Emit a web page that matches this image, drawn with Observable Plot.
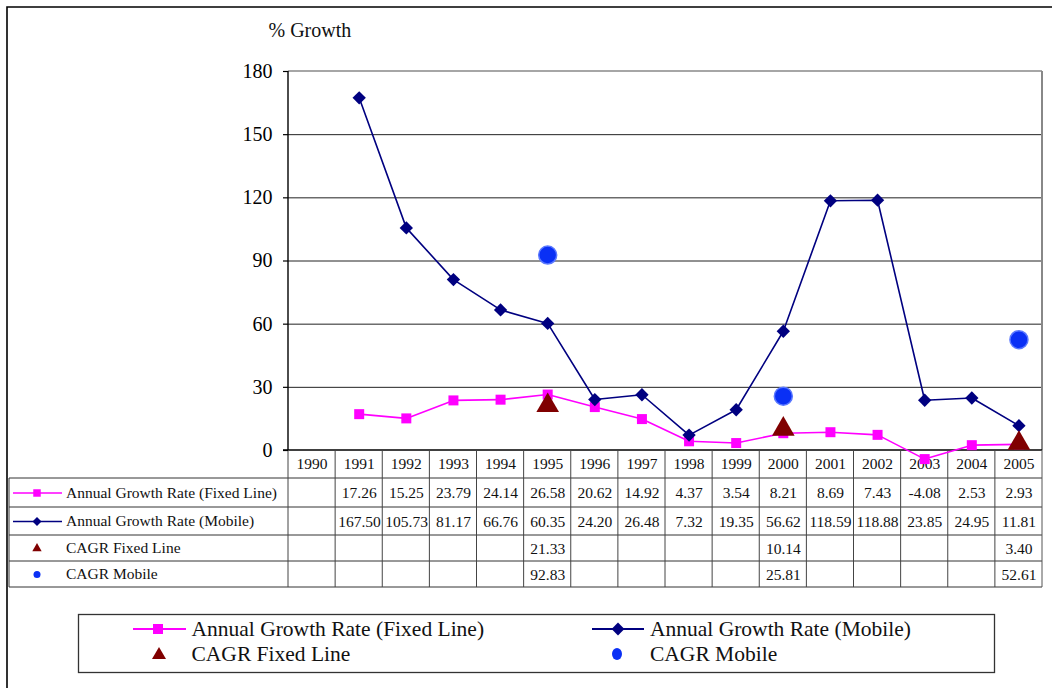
<!DOCTYPE html>
<html>
<head>
<meta charset="utf-8">
<script src="https://cdn.jsdelivr.net/npm/d3@7"></script>
<script src="https://cdn.jsdelivr.net/npm/@observablehq/plot@0.6"></script>
<style>
  html, body { margin: 0; padding: 0; background: #fff; }
  #chart { width: 1054px; height: 688px; overflow: hidden; }
</style>
</head>
<body>
<div id="chart"></div>
<script>
// Annual and compound growth rates of fixed-line and mobile subscribers, 1990–2005
const years = [1990, 1991, 1992, 1993, 1994, 1995, 1996, 1997, 1998, 1999, 2000, 2001, 2002, 2003, 2004, 2005];
const fixedLine = [null, 17.26, 15.25, 23.79, 24.14, 26.58, 20.62, 14.92, 4.37, 3.54, 8.21, 8.69, 7.43, -4.08, 2.53, 2.93];
const mobile = [null, 167.50, 105.73, 81.17, 66.76, 60.35, 24.20, 26.48, 7.32, 19.35, 56.62, 118.59, 118.88, 23.85, 24.95, 11.81];
const cagrYears = [1995, 2000, 2005];
const cagrFixed = [21.33, 10.14, 3.40];
const cagrMobile = [92.83, 25.81, 52.61];
const yTicks = [0, 30, 60, 90, 120, 150, 180];
const seriesNames = ["Annual Growth Rate (Fixed Line)", "Annual Growth Rate (Mobile)", "CAGR Fixed Line", "CAGR Mobile"];
const yTitle = "% Growth";

const FONT = '"Liberation Serif", "Times New Roman", Times, serif';
const C = {fixed: "#ff00ff", mobile: "#000080", cagrFixed: "#800000", cagrMobile: "#0a30f5", cagrMobileEdge: "#5a78ff"};

const annual = years.map((year, i) => ({year, fixed: fixedLine[i], mobile: mobile[i]}));
const cagr = cagrYears.map((year, i) => ({year, fixed: cagrFixed[i], mobile: cagrMobile[i]}));

// data-table rows: vertical boundaries and text centres, in px below the zero line
const rowEdges = [0, 28, 57, 85, 111, 137];
const rowMid = [14, 43, 71.5, 98.5, 124.5];

const cellsFixed = annual.filter(d => d.fixed != null).map(d => ({year: d.year, label: d.fixed.toFixed(2)}));
const cellsMobile = annual.filter(d => d.mobile != null).map(d => ({year: d.year, label: d.mobile.toFixed(2)}));
const cellsCagrFixed = cagr.map(d => ({year: d.year, label: d.fixed.toFixed(2)}));
const cellsCagrMobile = cagr.map(d => ({year: d.year, label: d.mobile.toFixed(2)}));
const wide = d => d.label.length > 5;

function cellText(data, row) {
  return [
    Plot.text(data.filter(d => !wide(d)), {x: "year", y: () => 0, text: "label", dy: rowMid[row], fontSize: 15.5, fill: "#111"}),
    Plot.text(data.filter(wide), {x: "year", y: () => 0, text: "label", dy: rowMid[row], dx: -21, textAnchor: "start", fontSize: 15.5, fill: "#111"})
  ];
}

// frame, plot borders, data-table grid, row keys and the legend box
function decorations(index, scales) {
  const x = scales.x, y = scales.y;
  const y0 = y(0), yTop = y(180);
  const left = x(years[0] - 0.5), right = x(years[years.length - 1] + 0.5);
  const g = d3.create("svg:g").attr("font-family", FONT).attr("text-anchor", "start");

  // outer chart frame
  g.append("path").attr("d", `M7,700V7H1052`).attr("fill", "none").attr("stroke", "#000").attr("stroke-width", 1.6);

  // plot area borders
  g.append("line").attr("x1", left).attr("x2", right).attr("y1", yTop).attr("y2", yTop).attr("stroke", "#888").attr("stroke-width", 1.6);
  g.append("line").attr("x1", right).attr("x2", right).attr("y1", yTop).attr("y2", y0).attr("stroke", "#888").attr("stroke-width", 2);
  g.append("line").attr("x1", left).attr("x2", left).attr("y1", yTop).attr("y2", y0).attr("stroke", "#000").attr("stroke-width", 1.4);
  g.append("line").attr("x1", left - 5).attr("x2", right).attr("y1", y0).attr("y2", y0).attr("stroke", "#000").attr("stroke-width", 1.4);

  // data table grid
  const tl = g.append("g").attr("stroke", "#333").attr("stroke-width", 1).attr("fill", "none");
  const tableBottom = y0 + rowEdges[rowEdges.length - 1];
  for (let i = 1; i < rowEdges.length; i++) {
    tl.append("line").attr("x1", 9).attr("x2", right).attr("y1", y0 + rowEdges[i]).attr("y2", y0 + rowEdges[i]);
  }
  for (let k = 0; k <= years.length; k++) {
    const xe = x(years[0] - 0.5 + k);
    tl.append("line").attr("x1", xe).attr("x2", xe).attr("y1", y0).attr("y2", tableBottom)
      .attr("stroke", k === years.length ? "#555" : "#444");
  }
  tl.append("line").attr("x1", 9).attr("x2", 9).attr("y1", y0 + rowEdges[1]).attr("y2", tableBottom);

  // row keys of the data table
  const keyX = 37;
  const ry = r => y0 + rowMid[r];
  g.append("line").attr("x1", 13).attr("x2", 62).attr("y1", ry(1)).attr("y2", ry(1)).attr("stroke", C.fixed).attr("stroke-width", 1.5);
  g.append("path").attr("d", d3.symbol(d3.symbolSquare, 56)()).attr("transform", `translate(${keyX},${ry(1)})`).attr("fill", C.fixed);
  g.append("line").attr("x1", 13).attr("x2", 62).attr("y1", ry(2)).attr("y2", ry(2)).attr("stroke", C.mobile).attr("stroke-width", 1.5);
  g.append("path").attr("d", d3.symbol(d3.symbolDiamond2, 52)()).attr("transform", `translate(${keyX},${ry(2)})`).attr("fill", C.mobile);
  g.append("path").attr("d", d3.symbol(d3.symbolTriangle, 38)()).attr("transform", `translate(${keyX},${ry(3)})`).attr("fill", C.cagrFixed);
  g.append("circle").attr("cx", keyX).attr("cy", ry(4)).attr("r", 3.5).attr("fill", C.cagrMobile);
  seriesNames.forEach((name, i) => {
    g.append("text").attr("x", 66).attr("y", ry(i + 1)).attr("dy", "0.32em")
      .attr("font-size", 15.5).attr("fill", "#111").text(name);
  });

  // legend
  g.append("rect").attr("x", 78.5).attr("y", 614.5).attr("width", 916).attr("height", 58)
    .attr("fill", "none").attr("stroke", "#333").attr("stroke-width", 1.3);
  const L1 = 629, L2 = 654;
  g.append("line").attr("x1", 133).attr("x2", 186).attr("y1", L1).attr("y2", L1).attr("stroke", C.fixed).attr("stroke-width", 1.8);
  g.append("path").attr("d", d3.symbol(d3.symbolSquare, 100)()).attr("transform", `translate(158,${L1})`).attr("fill", C.fixed);
  g.append("path").attr("d", d3.symbol(d3.symbolTriangle, 85)()).attr("transform", `translate(159,${L2 + 1})`).attr("fill", C.cagrFixed);
  g.append("line").attr("x1", 592).attr("x2", 644).attr("y1", L1).attr("y2", L1).attr("stroke", C.mobile).attr("stroke-width", 1.8);
  g.append("path").attr("d", d3.symbol(d3.symbolDiamond2, 105)()).attr("transform", `translate(618,${L1})`).attr("fill", C.mobile);
  g.append("ellipse").attr("cx", 617).attr("cy", L2).attr("rx", 5).attr("ry", 6).attr("fill", C.cagrMobile);
  const legendText = [[191.5, L1, seriesNames[0]], [650, L1, seriesNames[1]], [191.5, L2, seriesNames[2]], [650, L2, seriesNames[3]]];
  legendText.forEach(([lx, ly, t]) => {
    g.append("text").attr("x", lx).attr("y", ly).attr("dy", "0.32em").attr("font-size", 21.5).attr("fill", "#111").text(t);
  });

  return g.node();
}

const chart = Plot.plot({
  width: 1054,
  height: 688,
  marginLeft: 288,
  marginRight: 12,
  marginTop: 71,
  marginBottom: 238,
  style: {fontFamily: FONT, fontSize: "15.5px", background: "#fff", color: "#000", overflow: "visible"},
  x: {type: "linear", domain: [1989.5, 2005.5], axis: null},
  y: {type: "linear", domain: [0, 180], axis: null},
  marks: [
    Plot.ruleY(yTicks.filter(v => v > 0 && v < 180), {stroke: "#222", strokeWidth: 1}),
    decorations,
    Plot.axisY(yTicks, {tickSize: 5, tickPadding: 11, fontSize: 20, label: null, stroke: "#000", strokeWidth: 1.2}),
    Plot.text([yTitle], {frameAnchor: "top-left", textAnchor: "start", lineAnchor: "middle", dx: -20, dy: -41, fontSize: 20, fill: "#111"}),

    // year header of the data table
    Plot.text(years, {x: d => d, y: () => 0, text: d => String(d), dy: rowMid[0], fontSize: 15.5, fill: "#111"}),
    ...cellText(cellsFixed, 1),
    ...cellText(cellsMobile, 2),
    ...cellText(cellsCagrFixed, 3),
    ...cellText(cellsCagrMobile, 4),

    // annual growth series
    Plot.line(annual, {x: "year", y: "fixed", stroke: C.fixed, strokeWidth: 1.6}),
    Plot.dot(annual, {x: "year", y: "fixed", symbol: "square", r: 5.64, fill: C.fixed, stroke: "none"}),
    Plot.line(annual, {x: "year", y: "mobile", stroke: C.mobile, strokeWidth: 1.6}),
    Plot.dot(annual, {x: "year", y: "mobile", symbol: "diamond2", r: 6, fill: C.mobile, stroke: "none"}),

    // compound annual growth rates
    Plot.dot(cagr, {x: "year", y: "fixed", symbol: "triangle", r: 8.4, fill: C.cagrFixed, stroke: "none"}),
    Plot.dot(cagr, {x: "year", y: "mobile", r: 9, fill: C.cagrMobile, stroke: C.cagrMobileEdge, strokeWidth: 1.5})
  ]
});

document.getElementById("chart").appendChild(chart);
</script>
</body>
</html>
